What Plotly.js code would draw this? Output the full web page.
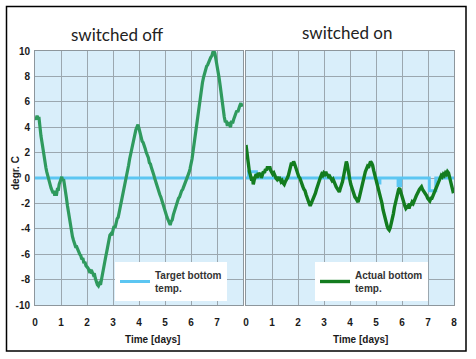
<!DOCTYPE html>
<html>
<head>
<meta charset="utf-8">
<script src="https://cdn.plot.ly/plotly-3.0.1.min.js"></script>
<style>html,body{margin:0;padding:0;background:#fff;}#chart{width:476px;height:359px;}</style>
</head>
<body>
<div id="chart"></div>
<script>
// ---- data ----
var panelTitles = ["switched off", "switched on"];
var xTickValsLeft = [0, 1, 2, 3, 4, 5, 6, 7];
var xTickValsRight = [0, 1, 2, 3, 4, 5, 6, 7, 8];
var yTickVals = [-10, -8, -6, -4, -2, 0, 2, 4, 6, 8, 10];

var offTargetX = [0, 8];
var offTargetY = [0, 0];

var offActualX = [0.00,0.04,0.08,0.12,0.15,0.19,0.23,0.27,0.30,0.33,0.36,0.39,0.42,0.45,0.48,0.52,0.55,0.58,0.62,0.66,0.70,0.73,0.76,0.79,0.82,0.86,0.90,0.93,0.97,1.00,1.03,1.06,1.10,1.13,1.17,1.21,1.25,1.29,1.33,1.37,1.40,1.44,1.48,1.52,1.56,1.60,1.64,1.68,1.72,1.76,1.80,1.84,1.88,1.92,1.96,2.00,2.04,2.08,2.12,2.16,2.20,2.24,2.28,2.32,2.36,2.40,2.44,2.48,2.52,2.56,2.60,2.64,2.68,2.72,2.76,2.80,2.84,2.88,2.92,2.96,3.00,3.04,3.08,3.12,3.16,3.20,3.24,3.28,3.32,3.36,3.40,3.44,3.48,3.52,3.56,3.60,3.64,3.68,3.72,3.76,3.80,3.84,3.88,3.92,3.96,4.00,4.04,4.08,4.12,4.16,4.20,4.24,4.28,4.32,4.36,4.40,4.44,4.48,4.52,4.56,4.60,4.64,4.68,4.72,4.76,4.80,4.84,4.88,4.92,4.96,5.00,5.04,5.08,5.12,5.16,5.20,5.24,5.28,5.32,5.36,5.40,5.44,5.48,5.52,5.56,5.60,5.64,5.68,5.72,5.76,5.80,5.84,5.88,5.92,5.96,6.00,6.04,6.08,6.12,6.16,6.20,6.24,6.28,6.32,6.36,6.40,6.44,6.48,6.52,6.56,6.60,6.64,6.68,6.72,6.76,6.80,6.84,6.88,6.92,6.96,7.00,7.04,7.08,7.12,7.16,7.20,7.24,7.28,7.32,7.36,7.40,7.44,7.48,7.52,7.56,7.60,7.64,7.68,7.72,7.76,7.80,7.84,7.88,7.92,7.96];
var offActualY = [4.8,4.6,4.9,4.7,4.8,3.9,3.3,2.8,2.3,1.9,1.4,1.1,0.8,0.5,0.2,0.0,-0.4,-0.5,-0.8,-1.0,-1.2,-1.0,-1.4,-1.1,-1.4,-0.9,-0.9,-0.5,-0.2,0.0,0.1,-0.2,-0.1,-0.5,-0.9,-1.6,-2.2,-2.8,-3.4,-3.9,-4.3,-4.6,-4.9,-5.1,-5.4,-5.4,-5.7,-5.8,-6.0,-6.1,-6.4,-6.3,-6.7,-6.6,-6.9,-7.0,-7.1,-7.3,-7.2,-7.5,-7.4,-7.6,-7.5,-7.9,-8.2,-8.4,-8.5,-8.3,-8.4,-7.9,-7.4,-7.0,-6.6,-6.2,-5.8,-5.3,-4.9,-4.5,-4.4,-4.5,-4.1,-3.8,-3.9,-3.5,-3.2,-3.1,-2.7,-2.4,-2.0,-1.7,-1.2,-0.8,-0.4,0.0,0.5,1.0,1.5,1.9,2.4,2.8,3.2,3.6,3.8,4.0,4.2,3.9,3.5,3.2,2.9,2.8,2.4,2.3,2.0,1.8,1.6,1.2,1.1,0.8,0.6,0.3,0.0,-0.3,-0.5,-0.8,-1.0,-1.3,-1.5,-1.8,-2.1,-2.4,-2.6,-2.9,-3.1,-3.3,-3.5,-3.7,-3.4,-3.3,-2.9,-2.6,-2.4,-2.1,-1.9,-1.6,-1.5,-1.2,-1.0,-0.9,-0.7,-0.5,-0.3,-0.1,0.2,0.4,0.7,1.0,1.5,2.1,2.7,3.4,4.2,4.9,5.5,6.1,6.6,7.0,7.5,7.9,8.3,8.5,8.8,8.9,9.2,9.3,9.5,9.6,9.9,10.0,9.8,9.4,8.9,8.4,7.9,7.3,6.6,6.0,5.4,4.8,4.4,4.5,4.1,4.4,4.2,4.0,4.5,4.3,4.6,4.8,5.0,5.3,5.2,5.6,5.7,5.9,5.6];

var onTargetX = [0,0.1,0.1,0.4,0.4,5.05,5.05,5.15,5.15,5.85,5.85,5.95,5.95,7.05,7.05,7.3,7.3,8];
var onTargetY = [0,0,0.5,0.5,0,0,-0.4,-0.4,0,0,-0.6,-0.6,0,0,-1.0,-1.0,0,0];

var onActualX = [0.00,0.02,0.04,0.06,0.08,0.10,0.13,0.16,0.19,0.22,0.25,0.28,0.31,0.35,0.39,0.43,0.47,0.51,0.55,0.59,0.63,0.67,0.71,0.75,0.79,0.83,0.87,0.91,0.95,0.99,1.03,1.07,1.11,1.15,1.19,1.23,1.27,1.31,1.35,1.39,1.43,1.47,1.51,1.55,1.59,1.63,1.67,1.71,1.75,1.79,1.83,1.87,1.91,1.95,1.99,2.03,2.07,2.11,2.15,2.19,2.23,2.27,2.31,2.35,2.39,2.43,2.47,2.51,2.55,2.59,2.63,2.67,2.71,2.75,2.79,2.83,2.87,2.91,2.95,2.99,3.03,3.07,3.11,3.15,3.19,3.23,3.27,3.31,3.35,3.39,3.43,3.47,3.51,3.55,3.59,3.63,3.67,3.71,3.75,3.79,3.83,3.86,3.89,3.92,3.95,3.99,4.03,4.07,4.11,4.15,4.19,4.23,4.27,4.31,4.35,4.39,4.43,4.47,4.51,4.55,4.59,4.63,4.67,4.71,4.75,4.79,4.83,4.87,4.91,4.95,4.99,5.03,5.07,5.11,5.15,5.19,5.23,5.27,5.31,5.35,5.39,5.43,5.47,5.51,5.55,5.59,5.63,5.67,5.71,5.75,5.79,5.83,5.87,5.91,5.95,5.99,6.03,6.07,6.11,6.15,6.19,6.23,6.27,6.31,6.35,6.39,6.43,6.47,6.51,6.55,6.59,6.63,6.67,6.71,6.75,6.79,6.83,6.87,6.91,6.95,6.99,7.03,7.07,7.11,7.15,7.19,7.23,7.27,7.31,7.35,7.39,7.43,7.47,7.51,7.55,7.59,7.63,7.67,7.71,7.75,7.79,7.83,7.87,7.91,7.95,7.98];
var onActualY = [2.6,2.3,1.9,1.6,1.0,0.8,0.5,0.3,0.0,-0.2,0.1,-0.5,-0.2,0.1,0.3,0.0,0.4,0.2,0.4,0.0,0.3,0.5,0.4,0.7,0.6,0.9,0.7,0.9,0.6,0.5,0.3,0.4,0.1,0.0,-0.1,0.1,-0.2,-0.1,-0.3,-0.2,-0.4,-0.5,-0.3,-0.2,0.0,0.2,0.6,0.9,1.2,1.0,1.3,1.1,0.8,0.6,0.3,0.1,0.0,-0.3,-0.5,-0.7,-0.9,-1.0,-1.3,-1.6,-1.8,-2.0,-2.2,-2.0,-1.8,-1.7,-1.4,-1.2,-0.9,-0.6,-0.4,-0.1,0.1,0.3,0.2,0.4,0.3,0.5,0.2,0.3,0.0,0.1,-0.1,-0.2,-0.1,-0.4,-0.5,-0.7,-0.8,-1.0,-1.1,-0.8,-0.6,-0.3,0.1,0.5,1.0,1.3,1.1,0.6,0.2,-0.1,-0.5,-0.8,-1.1,-1.3,-1.5,-1.6,-1.8,-1.9,-1.6,-1.2,-0.8,-0.4,-0.1,0.3,0.5,0.7,0.9,0.8,1.1,1.3,1.2,1.0,0.6,0.3,0.0,-0.3,-0.6,-0.9,-1.2,-1.6,-2.0,-2.5,-2.9,-3.3,-3.6,-3.8,-4.0,-4.1,-3.9,-3.6,-3.2,-2.8,-2.3,-1.9,-1.5,-1.1,-0.9,-0.8,-1.1,-1.5,-1.7,-2.0,-2.2,-2.4,-2.3,-2.2,-2.4,-2.1,-2.1,-1.9,-2.0,-1.7,-1.6,-1.4,-1.2,-1.1,-0.9,-0.8,-0.7,-0.9,-1.0,-1.1,-1.3,-1.4,-1.6,-1.7,-1.8,-1.6,-1.6,-1.4,-1.2,-1.0,-0.8,-0.6,-0.3,-0.1,0.0,0.2,0.1,0.3,0.2,0.4,0.3,0.5,0.4,0.1,-0.2,-0.6,-1.0,-1.2];

var seriesNames = ["Target bottom<br>temp.", "Actual bottom<br>temp."];

// ---- styles ----
var W = 476, H = 359;
var targetColor = "#5cc6f2";
var offGreen = "#2f9a5e";
var onGreen = "#137c1f";
var gridColor = "#9ba7af";
var tickFont = {family: "Liberation Sans, Arial, sans-serif", size: 10, color: "#1a1a1a", weight: "bold"};
function px(x){return x/W;}
function py(y){return 1 - y/H;}

var traces = [
  {x: offTargetX, y: offTargetY, xaxis: "x", yaxis: "y", mode: "lines", name: seriesNames[0],
   line: {color: targetColor, width: 3}, legend: "legend", showlegend: true},
  {x: offActualX, y: offActualY, xaxis: "x", yaxis: "y", mode: "lines", name: seriesNames[1],
   line: {color: offGreen, width: 3.2}, showlegend: false},
  {x: onTargetX, y: onTargetY, xaxis: "x2", yaxis: "y2", mode: "lines", name: seriesNames[0],
   line: {color: targetColor, width: 3}, showlegend: false},
  {x: onActualX, y: onActualY, xaxis: "x2", yaxis: "y2", mode: "lines", name: seriesNames[1],
   line: {color: onGreen, width: 3.4}, legend: "legend2", showlegend: true}
];

var yDom = [py(305), py(51)];
function xAx(dom, vals){
  return {domain: dom, range: [0, 8], tickvals: vals, ticktext: vals.map(String), showgrid: true,
    gridcolor: gridColor, gridwidth: 1, showline: true, mirror: true, linecolor: "#8d969c", linewidth: 1,
    zeroline: false, ticks: "", tickfont: tickFont, ticklabelstandoff: 8, fixedrange: true};
}
function yAx(dom, anchor, labels){
  return {domain: dom, anchor: anchor, range: [-10, 10], tickvals: yTickVals, ticktext: yTickVals.map(String),
    showticklabels: labels, showgrid: true, gridcolor: gridColor, gridwidth: 1, showline: true, mirror: true,
    linecolor: "#8d969c", linewidth: 1, zeroline: false, ticks: "", tickfont: tickFont, ticklabelstandoff: 2,
    fixedrange: true};
}

var legendFont = {family: "Liberation Sans, Arial, sans-serif", size: 10, color: "#333", weight: "bold"};
var layout = {
  width: W, height: H,
  margin: {l: 0, r: 0, t: 0, b: 0},
  paper_bgcolor: "#ffffff",
  plot_bgcolor: "#d9eefa",
  showlegend: true,
  xaxis: Object.assign(xAx([px(35), px(243)], xTickValsLeft), {anchor: "y"}),
  xaxis2: Object.assign(xAx([px(246), px(454)], xTickValsRight), {anchor: "y2"}),
  yaxis: yAx(yDom, "x", true),
  yaxis2: yAx(yDom, "x2", false),
  legend: {x: px(115), y: py(262), xanchor: "left", yanchor: "top", bgcolor: "#ffffff",
    font: legendFont, itemwidth: 30, borderwidth: 0, entrywidth: 118},
  legend2: {x: px(315), y: py(262), xanchor: "left", yanchor: "top", bgcolor: "#ffffff",
    font: legendFont, itemwidth: 30, borderwidth: 0, entrywidth: 114},
  annotations: [
    {text: panelTitles[0], x: px(117), y: py(34), xref: "paper", yref: "paper", showarrow: false,
     xanchor: "center", yanchor: "middle", font: {family: "Lato, Open Sans, sans-serif", size: 17, color: "#222"}},
    {text: panelTitles[1], x: px(347), y: py(33), xref: "paper", yref: "paper", showarrow: false,
     xanchor: "center", yanchor: "middle", font: {family: "Lato, Open Sans, sans-serif", size: 17, color: "#222"}},
    {text: "Time [days]", x: px(152), y: py(339), xref: "paper", yref: "paper", showarrow: false,
     xanchor: "center", yanchor: "middle", font: tickFont},
    {text: "Time [days]", x: px(360), y: py(339), xref: "paper", yref: "paper", showarrow: false,
     xanchor: "center", yanchor: "middle", font: tickFont},
    {text: "degr. C", x: px(15), y: py(173), xref: "paper", yref: "paper", showarrow: false, textangle: -90,
     xanchor: "center", yanchor: "middle", font: tickFont}
  ],
  shapes: [
    {type: "rect", xref: "paper", yref: "paper", x0: px(6.5), x1: px(466), y0: py(351), y1: py(6.5),
     line: {color: "#000", width: 1.5}, fillcolor: "rgba(0,0,0,0)", layer: "above"}
  ]
};

Plotly.newPlot("chart", traces, layout, {displayModeBar: false, staticPlot: true});
</script>
</body>
</html>
